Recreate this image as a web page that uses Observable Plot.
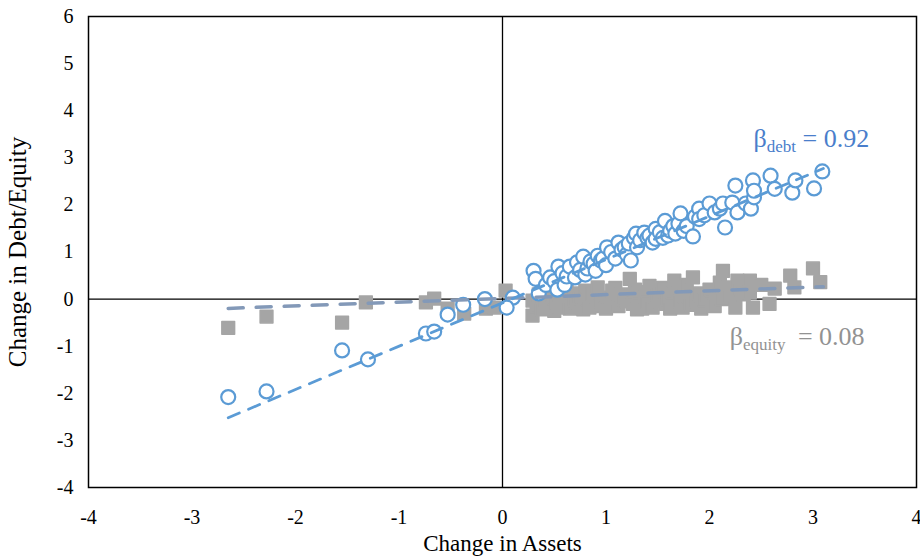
<!DOCTYPE html>
<html>
<head>
<meta charset="utf-8">
<script src="https://cdn.jsdelivr.net/npm/d3@7"></script>
<script src="https://cdn.jsdelivr.net/npm/@observablehq/plot@0.6"></script>
<style>
  html, body { margin: 0; padding: 0; background: #fff; }
  #chart svg { display: block; }
  #chart text { font-family: "Liberation Serif", "Times New Roman", serif; }
</style>
</head>
<body>
<div id="chart"></div>
<script>
// Axis ticks
const xTicks = [-4, -3, -2, -1, 0, 1, 2, 3, 4];
const yTicks = [-4, -3, -2, -1, 0, 1, 2, 3, 4, 5, 6];

// Change in debt against change in assets
const debtPoints = [
  [-2.65, -2.08], [-2.28, -1.96], [-1.55, -1.09], [-1.30, -1.28], [-0.74, -0.73],
  [-0.66, -0.69], [-0.53, -0.33], [-0.38, -0.12], [-0.17, 0.00], [0.10, 0.03],
  [0.04, -0.18], [0.30, 0.60], [0.32, 0.43], [0.35, 0.12], [0.42, 0.30],
  [0.46, 0.46], [0.50, 0.38], [0.53, 0.20], [0.54, 0.69], [0.58, 0.55],
  [0.60, 0.30], [0.62, 0.48], [0.65, 0.69], [0.70, 0.46], [0.72, 0.78],
  [0.75, 0.62], [0.78, 0.90], [0.80, 0.52], [0.82, 0.65], [0.85, 0.80],
  [0.88, 0.75], [0.90, 0.60], [0.92, 0.92], [0.95, 0.82], [0.97, 0.86],
  [1.00, 0.72], [1.01, 1.10], [1.05, 1.00], [1.09, 0.86], [1.12, 1.20],
  [1.15, 1.05], [1.18, 1.10], [1.20, 0.95], [1.22, 1.18], [1.24, 0.82],
  [1.27, 1.30], [1.29, 1.39], [1.30, 1.10], [1.33, 1.25], [1.37, 1.41],
  [1.40, 1.30], [1.42, 1.35], [1.45, 1.20], [1.48, 1.49], [1.48, 1.28],
  [1.52, 1.42], [1.55, 1.30], [1.57, 1.66], [1.60, 1.35], [1.62, 1.45],
  [1.65, 1.55], [1.67, 1.39], [1.70, 1.60], [1.72, 1.82], [1.75, 1.45],
  [1.78, 1.55], [1.84, 1.33], [1.86, 1.75], [1.90, 1.92], [1.90, 1.70],
  [1.95, 1.78], [2.00, 2.03], [2.05, 1.84], [2.10, 1.92], [2.13, 2.03],
  [2.15, 1.52], [2.22, 2.05], [2.27, 1.84], [2.25, 2.41], [2.35, 2.03],
  [2.40, 1.92], [2.42, 2.52], [2.43, 2.16], [2.43, 2.30], [2.59, 2.62],
  [2.63, 2.34], [2.80, 2.26], [2.83, 2.52], [3.01, 2.35], [3.09, 2.71]
];

// Change in equity against change in assets
const equityPoints = [
  [-2.65, -0.61], [-2.28, -0.37], [-1.55, -0.50], [-1.32, -0.07], [-0.74, -0.07],
  [-0.66, 0.01], [-0.53, -0.20], [-0.37, -0.31], [-0.16, -0.20], [-0.08, -0.18],
  [0.03, 0.18], [0.29, -0.35], [0.29, -0.03], [0.33, -0.15], [0.35, 0.10],
  [0.38, -0.22], [0.42, -0.05], [0.45, 0.15], [0.48, 0.08], [0.50, -0.25],
  [0.52, -0.10], [0.55, -0.18], [0.58, 0.12], [0.60, 0.05], [0.62, 0.22],
  [0.65, -0.20], [0.68, 0.12], [0.70, -0.02], [0.72, -0.10], [0.75, 0.02],
  [0.78, -0.22], [0.80, 0.18], [0.82, 0.00], [0.84, -0.18], [0.87, 0.10],
  [0.90, 0.05], [0.92, 0.25], [0.94, -0.15], [0.96, -0.05], [1.00, -0.20],
  [1.03, 0.03], [1.06, 0.18], [1.09, 0.24], [1.12, -0.15], [1.15, 0.10],
  [1.18, 0.00], [1.20, -0.05], [1.23, 0.43], [1.26, -0.10], [1.28, 0.20],
  [1.30, -0.22], [1.32, 0.15], [1.35, -0.20], [1.38, 0.05], [1.40, -0.08],
  [1.42, 0.28], [1.45, -0.18], [1.48, 0.05], [1.50, 0.10], [1.53, -0.05],
  [1.55, 0.24], [1.58, -0.10], [1.60, 0.00], [1.62, -0.20], [1.64, 0.15],
  [1.66, 0.39], [1.70, 0.15], [1.72, -0.05], [1.74, -0.18], [1.76, 0.05],
  [1.78, 0.30], [1.80, 0.05], [1.82, -0.12], [1.84, 0.46], [1.88, -0.05],
  [1.90, 0.12], [1.92, -0.20], [1.95, -0.02], [1.98, 0.10], [2.00, 0.20],
  [2.02, -0.08], [2.05, -0.15], [2.06, 0.12], [2.10, 0.35], [2.12, 0.00],
  [2.13, 0.60], [2.18, 0.25], [2.20, 0.05], [2.25, -0.18], [2.27, 0.39],
  [2.30, 0.20], [2.33, 0.10], [2.39, 0.39], [2.39, 0.14], [2.42, -0.18],
  [2.50, 0.30], [2.58, -0.10], [2.63, 0.22], [2.78, 0.50], [2.82, 0.25],
  [3.00, 0.65], [3.07, 0.36]
];

// Fitted lines: slope and intercept, drawn over the range of the data
const fitRange = [-2.65, 3.1];
const debtFit = {beta: 0.92, intercept: -0.08};
const equityFit = {beta: 0.08, intercept: 0.015};

const fitLine = (fit) => fitRange.map((x) => [x, fit.intercept + fit.beta * x]);

const serif = "Liberation Serif";
const blue = "#5b9bd5";
const gray = "#a5a5a5";
const slate = "#8399b8";

const plot = Plot.plot({
  width: 920,
  height: 557,
  marginLeft: 88,
  marginRight: 4,
  marginTop: 16,
  marginBottom: 70,
  style: {fontFamily: serif, fontSize: "20px", color: "#000", background: "#fff"},
  x: {domain: [-4, 4]},
  y: {domain: [-4, 6]},
  marks: [
    Plot.ruleX([0], {stroke: "#000", strokeWidth: 1.3}),
    Plot.ruleY([0], {stroke: "#000", strokeWidth: 1.3}),
    Plot.frame({stroke: "#000", strokeWidth: 1.5}),
    Plot.axisX({ticks: xTicks, tickSize: 0, tickPadding: 22, tickFormat: (d) => String(d), label: null, fontSize: 20, fontFamily: serif}),
    Plot.axisX({ticks: [], label: "Change in Assets", labelAnchor: "center", labelArrow: "none", labelOffset: 63, fontSize: 23, fontFamily: serif}),
    Plot.axisY({ticks: yTicks, tickSize: 0, tickPadding: 15, tickFormat: (d) => String(d), label: null, fontSize: 20, fontFamily: serif}),
    Plot.axisY({ticks: [], label: "Change in Debt/Equity", labelAnchor: "center", labelArrow: "none", labelOffset: 80, fontSize: 25, fontFamily: serif}),
    Plot.dot(equityPoints, {x: (d) => d[0], y: (d) => d[1], symbol: "square", r: 7.2, fill: gray, stroke: gray, strokeWidth: 1.5, strokeLinejoin: "round"}),
    Plot.dot(debtPoints, {x: (d) => d[0], y: (d) => d[1], r: 7, fill: "#fff", stroke: blue, strokeWidth: 2.2}),
    Plot.line(fitLine(equityFit), {x: (d) => d[0], y: (d) => d[1], stroke: slate, strokeWidth: 3.5, strokeDasharray: "15,13"}),
    Plot.line(fitLine(debtFit), {x: (d) => d[0], y: (d) => d[1], stroke: blue, strokeWidth: 2.8, strokeDasharray: "12,10"})
  ]
});

document.getElementById("chart").appendChild(plot);

// Coefficient annotations with subscripts
const sx = plot.scale("x");
const sy = plot.scale("y");
const svg = d3.select(plot);

function betaLabel(x, y, sub, value, color, gap) {
  const t = svg.append("text")
    .attr("x", sx.apply(x))
    .attr("y", sy.apply(y))
    .attr("text-anchor", "start")
    .attr("fill", color)
    .attr("font-family", serif)
    .attr("font-size", 26);
  t.append("tspan").text("β");
  t.append("tspan").attr("font-size", 17).attr("dy", 5).text(sub);
  t.append("tspan").attr("dy", -5).attr("dx", gap).text(" = " + value.toFixed(2));
}

betaLabel(2.43, 3.22, "debt", debtFit.beta, "#4a7ecb", 0);
betaLabel(2.20, -0.99, "equity", equityFit.beta, "#929292", 6);
</script>
</body>
</html>
